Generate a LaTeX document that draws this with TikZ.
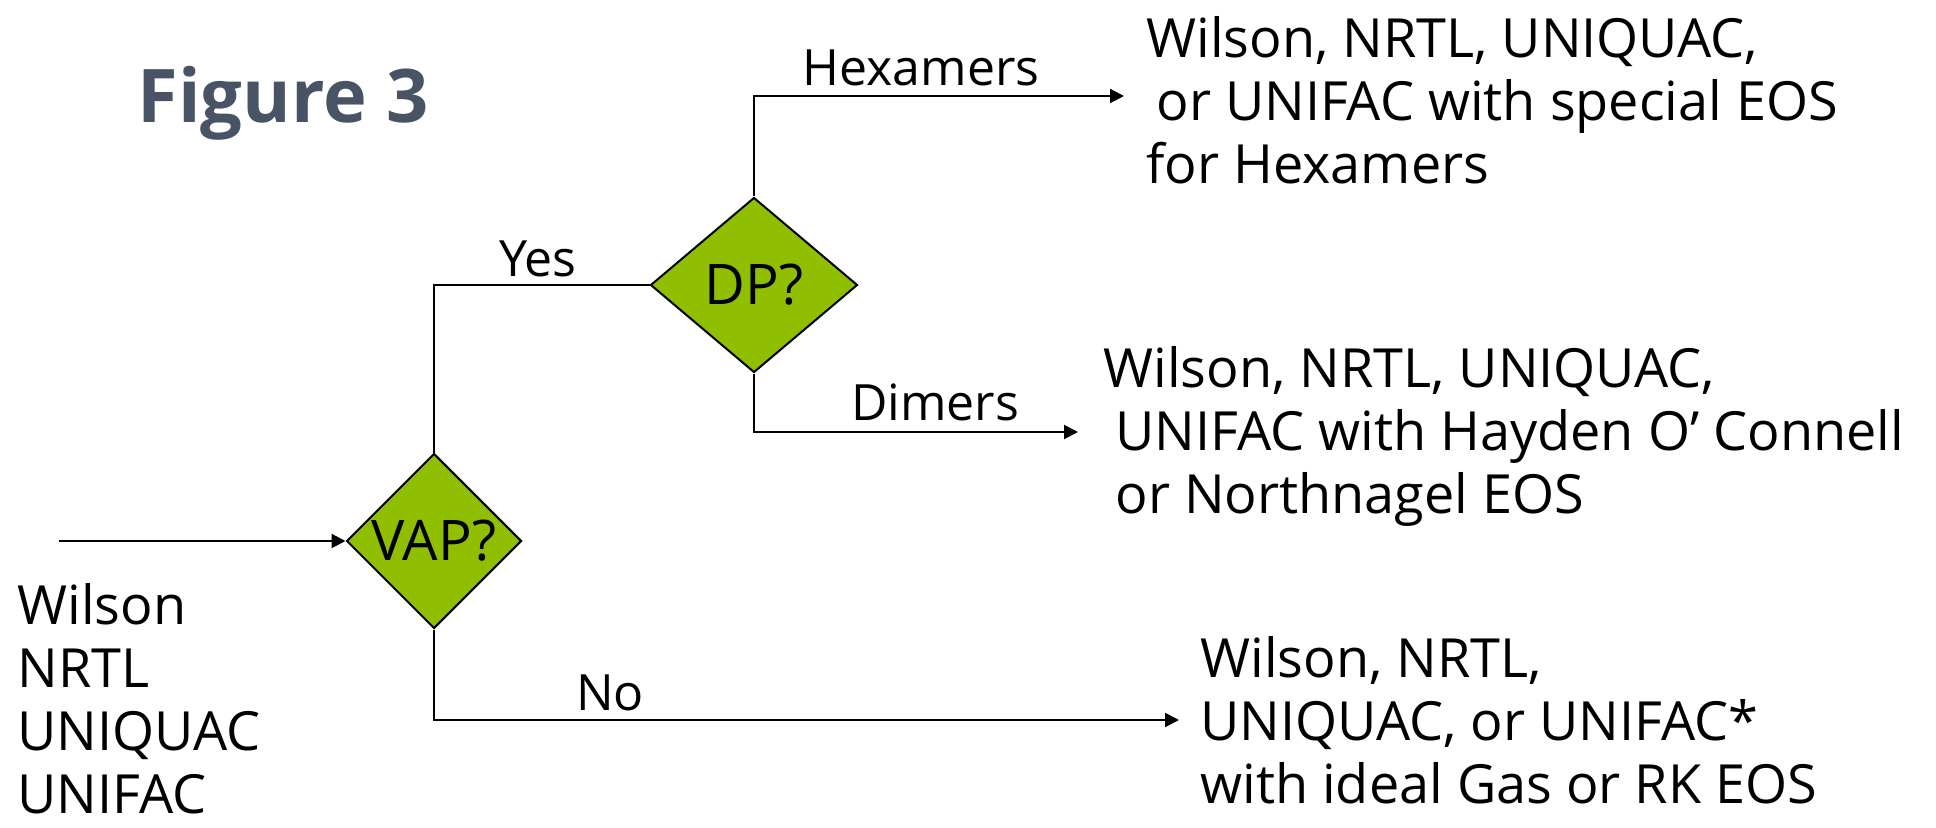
\documentclass[tikz,border=0pt]{standalone}
\usepackage{fontspec}
\setmainfont{Open Sans}
\usetikzlibrary{shapes.geometric,arrows.meta}
\definecolor{dgreen}{RGB}{144,190,0}
\definecolor{titlecol}{RGB}{72,84,102}
\begin{document}
\begin{tikzpicture}[x=0.5pt,y=-0.5pt,
  dec/.style={diamond, draw=black, line width=1pt, fill=dgreen, inner sep=0pt, font=\fontsize{28}{32}\selectfont},
  conn/.style={draw=black, line width=1pt},
  arr/.style={conn, -{Triangle[length=7pt,width=7pt]}},
  elabel/.style={font=\fontsize{25}{30}\selectfont, inner sep=0pt},
  res/.style={font=\fontsize{27}{31.5}\selectfont, align=left, inner sep=0pt, anchor=west}
]
\useasboundingbox (0,0) rectangle (1936,828);

\node[font=\fontsize{37}{42}\selectfont\bfseries, text=titlecol, inner sep=0pt] (title) at (283,103) {Figure 3};

\node[dec, minimum width=87.5pt, minimum height=87.5pt] (vap) at (434,541) {VAP?};
\node[dec, minimum width=103.5pt, minimum height=87.5pt] (dp) at (754,285) {DP?};

\coordinate (in) at (59,541);
\coordinate (hx) at (1124,96);
\coordinate (dm) at (1078,432);
\coordinate (no) at (1179,720);

\draw[arr] (in) -- (vap.west);
\draw[conn] (vap.north) |- (dp.west);
\draw[arr] (dp.north) |- (hx);
\draw[arr] (dp.south) |- (dm);
\draw[arr] (vap.south) |- (no);

\node[elabel] (lyes) at (538,259) {Yes};
\node[elabel] (lhex) at (921,68) {Hexamers};
\node[elabel] (ldim) at (935,402) {Dimers};
\node[elabel] (lno) at (610,693) {No};

\node[res] (rhex) at (1146,100) {Wilson, NRTL, UNIQUAC,\\\hspace{5pt}or UNIFAC with special EOS\\for Hexamers};
\node[res] (rdim) at (1103,436) {Wilson, NRTL, UNIQUAC,\\\hspace{6pt}UNIFAC with Hayden O’ Connell\\\hspace{6pt}or Northnagel EOS};
\node[res] (rno) at (1200,720) {Wilson, NRTL,\\UNIQUAC, or UNIFAC*\\with ideal Gas or RK EOS};
\node[res] (left) at (17,699) {Wilson\\NRTL\\UNIQUAC\\UNIFAC};
\end{tikzpicture}
\end{document}
